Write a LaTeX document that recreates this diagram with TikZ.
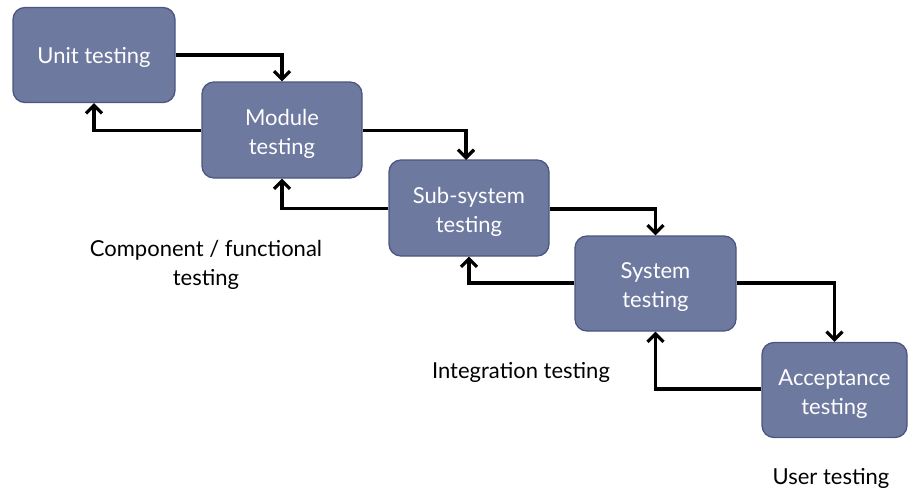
\documentclass[tikz,border=0pt]{standalone}
\usepackage{fontspec}
\setmainfont{Lato}
\usetikzlibrary{arrows.meta}
\definecolor{boxfill}{HTML}{6E79A0}
\definecolor{boxline}{HTML}{4C5680}
\begin{document}
\begin{tikzpicture}[x=1pt,y=-1pt,
  stage/.style={draw=boxline, line width=1.3pt, fill=boxfill, rounded corners=12pt, inner sep=0pt},
  stagetext/.style={text=white, align=center, font=\fontsize{22}{29}\selectfont, inner sep=0pt, yshift=-4pt},
  flow/.style={line width=3.8pt, -{Straight Barb[length=8pt,width=16pt,line width=3.2pt]}},
  lbl/.style={align=center, font=\fontsize{22}{29}\selectfont, inner sep=0pt}]
\useasboundingbox (0,0) rectangle (914,498);
\node[stage, minimum width=162pt, minimum height=95pt, label={[stagetext,yshift=2pt]center:Unit testing}] (unit) at (94,55) {};
\node[stage, minimum width=160pt, minimum height=96pt, label={[stagetext]center:Module\\testing}] (module) at (282,130) {};
\node[stage, minimum width=160pt, minimum height=96pt, label={[stagetext]center:Sub-system\\testing}] (sub) at (469,208) {};
\node[stage, minimum width=161pt, minimum height=95pt, label={[stagetext]center:System\\testing}] (sys) at (655.5,283.5) {};
\node[stage, minimum width=145pt, minimum height=95pt, label={[stagetext]center:Acceptance\\testing}] (acc) at (834.5,390) {};
\node[lbl] (comp) at (206,265) {Component / functional\\testing};
\node[lbl] (integ) at (521,372) {Integration testing};
\node[lbl] (user) at (831,478) {User testing};
\draw[flow] (unit.east |- 0,55) -| (module.north);
\draw[flow] (module.west |- 0,130.5) -| (unit.south);
\draw[flow] (module.east |- 0,130.5) -| (466,160);
\draw[flow] (sub.west |- 0,208.5) -| (module.south);
\draw[flow] (sub.east |- 0,209) -| (sys.north);
\draw[flow] (sys.west |- 0,283) -| (sub.south);
\draw[flow] (sys.east |- 0,283) -| (acc.north);
\draw[flow] (acc.west |- 0,389) -| (sys.south);
\end{tikzpicture}
\end{document}
